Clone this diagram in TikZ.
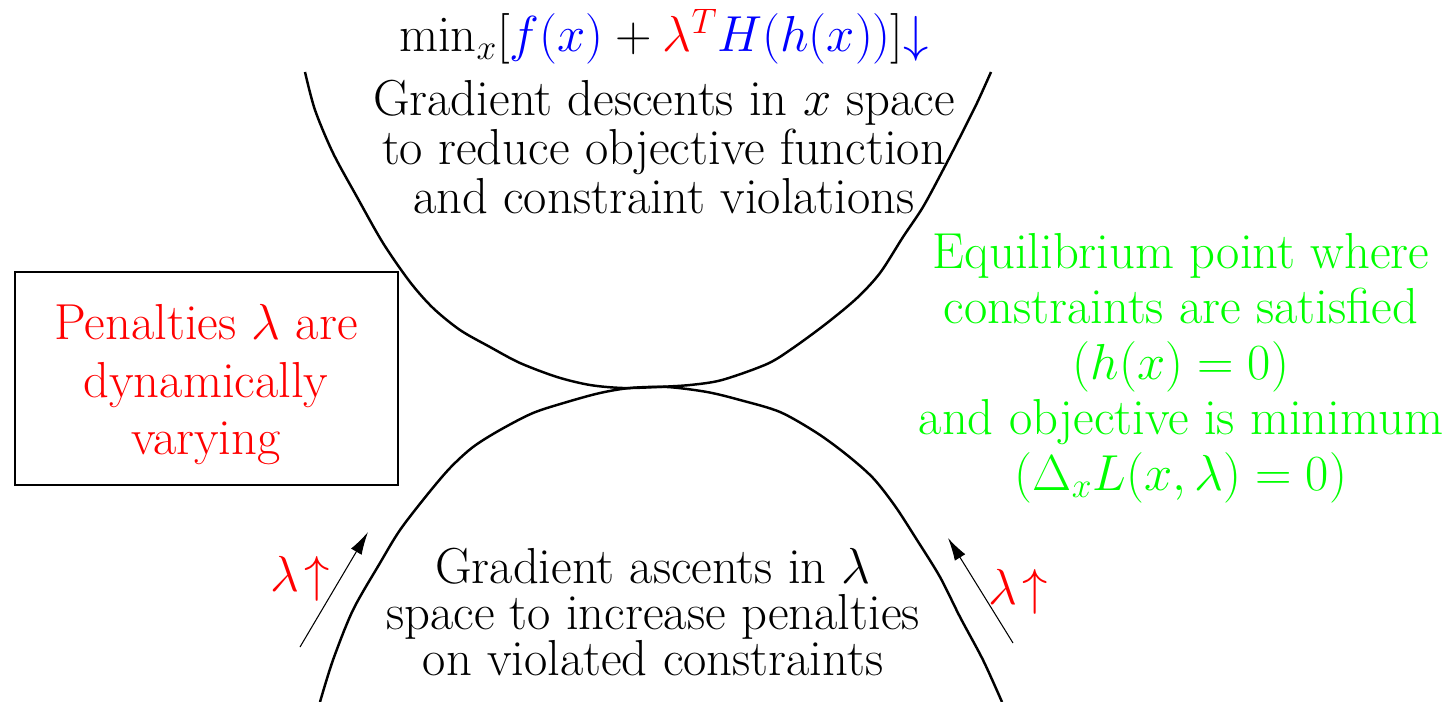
\RequirePackage{fix-cm}
\documentclass[tikz,border=0pt]{standalone}
\usepackage{tikz}
\usetikzlibrary{arrows.meta}
\tikzset{
  curve/.style={line width=1.4pt, draw=black, line join=round},
  penaltybox/.style={draw=black, line width=0.6pt},
  bodytext/.style={font=\fontsize{28.8}{#1}\selectfont, align=center, inner sep=0pt},
  bodytext/.default=30pt,
  lambdaarrow/.style={line width=0.6pt, -{Latex[length=13pt,width=7pt]}},
  lambdalabel/.style={font=\fontsize{28.8}{30}\selectfont, text=red, inner sep=0pt, anchor=base},
}

\begin{document}
\begin{tikzpicture}[x=0.02cm, y=-0.02cm]
\useasboundingbox (0,0) rectangle (1456,702);
% upper curve
\draw[curve] plot[smooth, tension=0.5] coordinates {(305,72) (315,110) (333,153) (357,197) (383,243) (410,282) (433,308) (460,330) (490,347) (520,363) (557,377) (590,385) (623,388) (657,387) (690,385) (722,380) (767,364) (793,348) (827,323) (857,298) (880,273) (903,237) (923,207) (943,170) (960,137) (977,103) (991,72)};
% lower curve
\draw[curve] plot[smooth, tension=0.5] coordinates {(320,702) (333,660) (353,610) (380,563) (400,530) (427,495) (450,468) (473,447) (500,430) (533,413) (567,402) (600,393) (630,388) (667,387) (707,392) (740,400) (780,412) (817,433) (847,455) (873,478) (895,506) (917,540) (940,577) (960,617) (983,660) (1002,702)};
% box
\draw[penaltybox] (15,272) rectangle (398,485);
\node[bodytext=32.7pt, text=red] (penalty) at (206,385) {Penalties $\lambda$ are\\dynamically\\varying};
% texts
\node[bodytext, anchor=base] (objective) at (664,52) {$\min_x[\textcolor{blue}{f(x)}+\textcolor{red}{\lambda^T}\textcolor{blue}{H(h(x))}]\textcolor{blue}{\downarrow}$};
\node[bodytext=27.9pt] (descent) at (664,147) {Gradient descents in $x$ space\\to reduce objective function\\and constraint violations};
\node[bodytext=26.2pt] (ascent) at (653,612) {Gradient ascents in $\lambda$\\space to increase penalties\\on violated constraints};
\node[bodytext=31.6pt, text=green] (equil) at (1181,368) {Equilibrium point where\\constraints are satisfied\\$(h(x)=0)$\\and objective is minimum\\$(\Delta_x L(x,\lambda)=0)$};
% arrows
\coordinate (la) at (300,647);
\coordinate (lb) at (368,532);
\coordinate (ra) at (1013,643);
\coordinate (rb) at (948,538);
\draw[lambdaarrow] (la) -- (lb);
\draw[lambdaarrow] (ra) -- (rb);
\node[lambdalabel] (leftlam) at (300,591) {$\lambda\!\uparrow$};
\node[lambdalabel] (rightlam) at (1018,604) {$\lambda\!\uparrow$};
\end{tikzpicture}
\end{document}
